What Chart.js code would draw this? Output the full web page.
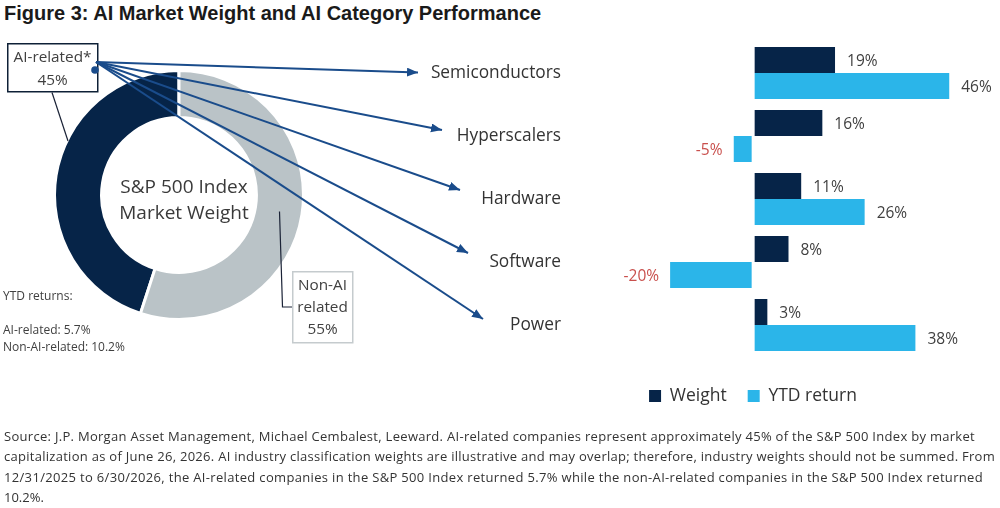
<!DOCTYPE html>
<html><head><meta charset="utf-8">
<script src="https://cdn.jsdelivr.net/npm/chart.js@4.4.1/dist/chart.umd.min.js"></script>
<style>
html,body{margin:0;padding:0;background:#fff;width:1000px;height:508px;overflow:hidden;font-family:"Open Sans",sans-serif;}
#title{position:absolute;left:4px;top:3px;font:bold 20px/20px "Liberation Sans",Arial,sans-serif;color:#1a1a1a;white-space:nowrap;}
#donut{position:absolute;left:53px;top:69px;z-index:1;}
#bars{position:absolute;left:0;top:0;z-index:2;}
#ann{position:absolute;left:0;top:0;z-index:3;}
.t{position:absolute;white-space:nowrap;color:#404040;z-index:4;}
.c{text-align:center;}
#foot{position:absolute;left:4px;top:425.5px;font-size:13px;line-height:20.6px;color:#333;white-space:nowrap;z-index:4;}
#foot span{display:inline-block;}
</style></head>
<body>
<div id="title">Figure 3: AI Market Weight and AI Category Performance</div>
<canvas id="donut" width="252" height="252"></canvas>
<canvas id="bars" width="1000" height="508"></canvas>
<svg id="ann" width="1000" height="508">
<defs><marker id="ah" markerUnits="userSpaceOnUse" markerWidth="12" markerHeight="10" refX="11" refY="4.5" orient="auto"><path d="M0,0 L11,4.5 L0,9 Z" fill="#1a4c8b"/></marker></defs>
<rect x="7.75" y="43.75" width="90" height="48" fill="none" stroke="#0e2036" stroke-width="1.5"/>
<line x1="52" y1="92.5" x2="68" y2="141" stroke="#1a2236" stroke-width="1.2"/>
<rect x="292.75" y="271.75" width="60" height="71" fill="#fff" stroke="#c5cbce" stroke-width="1.5"/>
<polyline points="279.5,211.5 282.5,307 292,307" fill="none" stroke="#1a2236" stroke-width="1.2"/>
<g id="arrows" stroke="#1a4c8b" stroke-width="2" fill="none"></g>
<circle cx="95" cy="70" r="3.8" fill="#1a4c8b"/>
</svg>
<div class="t c" style="left:84px;width:200px;top:177px;font-size:19px;line-height:19px;color:#3a3a3a">S&amp;P 500 Index</div>
<div class="t c" style="left:84px;width:200px;top:202.5px;font-size:19px;line-height:19px;color:#3a3a3a">Market Weight</div>
<div class="t c" style="left:2.5px;width:100px;top:49.4px;font-size:15.3px;line-height:15.3px">AI-related*</div>
<div class="t c" style="left:2.5px;width:100px;top:71.6px;font-size:15.3px;line-height:15.3px">45%</div>
<div class="t c" style="left:272.5px;width:100px;top:277.4px;font-size:15.3px;line-height:15.3px">Non-AI</div>
<div class="t c" style="left:272.5px;width:100px;top:298.9px;font-size:15.3px;line-height:15.3px">related</div>
<div class="t c" style="left:272.5px;width:100px;top:320.7px;font-size:15.3px;line-height:15.3px">55%</div>
<div class="t" style="left:3px;top:289.6px;font-size:12px;line-height:12px">YTD returns:</div>
<div class="t" style="left:3px;top:323.6px;font-size:12px;line-height:12px">AI-related: 5.7%</div>
<div class="t" style="left:3px;top:341.1px;font-size:12px;line-height:12px">Non-AI-related: 10.2%</div>
<div id="foot"><span>Source: J.P. Morgan Asset Management, Michael Cembalest, Leeward. AI-related companies represent approximately 45% of the S&amp;P 500 Index by market</span><br><span>capitalization as of June 26, 2026. AI industry classification weights are illustrative and may overlap; therefore, industry weights should not be summed. From</span><br><span>12/31/2025 to 6/30/2026, the AI-related companies in the S&amp;P 500 Index returned 5.7% while the non-AI-related companies in the S&amp;P 500 Index returned</span><br><span>10.2%.</span></div>
<script>
// ---- data ----
const categories = ['Semiconductors', 'Hyperscalers', 'Hardware', 'Software', 'Power'];
const weightValues = [19, 16, 11, 8, 3];
const ytdValues = [46, -5, 26, -20, 38];
const seriesNames = ['Weight', 'YTD return'];
const donutLabels = ['AI-related', 'Non-AI related'];
const donutValues = [45, 55];

// ---- styles ----
const NAVY = '#062448', SKY = '#2bb5e9', GRAY = '#bac3c7';

// footer line widths (layout only)
const footWidths = [971, 991, 979, null];
document.querySelectorAll('#foot span').forEach((s, i) => {
  const t = footWidths[i];
  if (!t) return;
  const w = s.getBoundingClientRect().width;
  s.style.letterSpacing = ((t - w) / s.textContent.length) + 'px';
});

// annotation arrows (decoration, from the AI-related callout to the category labels)
const arrowOrigin = [96, 62];
const arrowTips = [[418, 72.5], [442, 130], [460, 190], [468, 253], [483, 319]];
const g = document.getElementById('arrows');
arrowTips.forEach(t => {
  const l = document.createElementNS('http://www.w3.org/2000/svg', 'line');
  l.setAttribute('x1', arrowOrigin[0]); l.setAttribute('y1', arrowOrigin[1]);
  l.setAttribute('x2', t[0]); l.setAttribute('y2', t[1]);
  l.setAttribute('marker-end', 'url(#ah)');
  g.appendChild(l);
});

const total = donutValues.reduce((a, b) => a + b, 0);
new Chart(document.getElementById('donut'), {
  type: 'doughnut',
  data: { labels: donutLabels, datasets: [{ data: donutValues, backgroundColor: [NAVY, GRAY], borderColor: '#fff', borderWidth: 3 }] },
  options: {
    responsive: false, animation: false, cutout: '62.2%',
    rotation: -360 * donutValues[0] / total,
    layout: { padding: 0 },
    plugins: { legend: { display: false }, tooltip: { enabled: false } }
  }
});

const valueLabels = {
  id: 'valueLabels',
  afterDatasetsDraw(chart) {
    const ctx = chart.ctx;
    ctx.save();
    ctx.font = '15.5px "Open Sans"';
    ctx.textBaseline = 'middle';
    chart.data.datasets.forEach((ds, di) => {
      chart.getDatasetMeta(di).data.forEach((bar, i) => {
        const v = ds.data[i];
        const txt = v + '%';
        if (v < 0) { ctx.fillStyle = '#c9504d'; ctx.textAlign = 'right'; ctx.fillText(txt, bar.x - 11, bar.y + 2); }
        else { ctx.fillStyle = '#404040'; ctx.textAlign = 'left'; ctx.fillText(txt, bar.x + 12, bar.y + 2); }
      });
    });
    ctx.restore();
  }
};

new Chart(document.getElementById('bars'), {
  type: 'bar',
  data: {
    labels: categories,
    datasets: [
      { label: seriesNames[0], data: weightValues, backgroundColor: NAVY, categoryPercentage: 0.825, barPercentage: 1 },
      { label: seriesNames[1], data: ytdValues, backgroundColor: SKY, categoryPercentage: 0.825, barPercentage: 1,
        borderColor: '#fff', borderSkipped: false,
        borderWidth: c => (c.raw < 0 ? { right: 3, left: 0, top: 0, bottom: 0 } : 0) }
    ]
  },
  options: {
    indexAxis: 'y', responsive: false, animation: false,
    layout: { padding: { left: 420, right: -86, top: 41.5, bottom: 93.25 } },
    scales: {
      x: { min: -22, max: 58, grid: { display: false, drawTicks: false }, border: { display: false }, ticks: { display: false },
           afterFit: s => { s.height = 9.75; } },
      y: { grid: { display: false, drawTicks: false }, border: { display: false },
           ticks: { padding: 100.6, color: '#333', font: { family: 'Open Sans', size: 17.3 } },
           afterFit: s => { s.width = 241.6; s.paddingTop = 0; s.paddingBottom = 0; } }
    },
    plugins: {
      legend: { position: 'bottom', labels: { boxWidth: 12, boxHeight: 12, padding: 21, color: '#333', font: { family: 'Open Sans', size: 17.5 } } },
      tooltip: { enabled: false }
    }
  },
  plugins: [valueLabels]
});
</script>
</body></html>
